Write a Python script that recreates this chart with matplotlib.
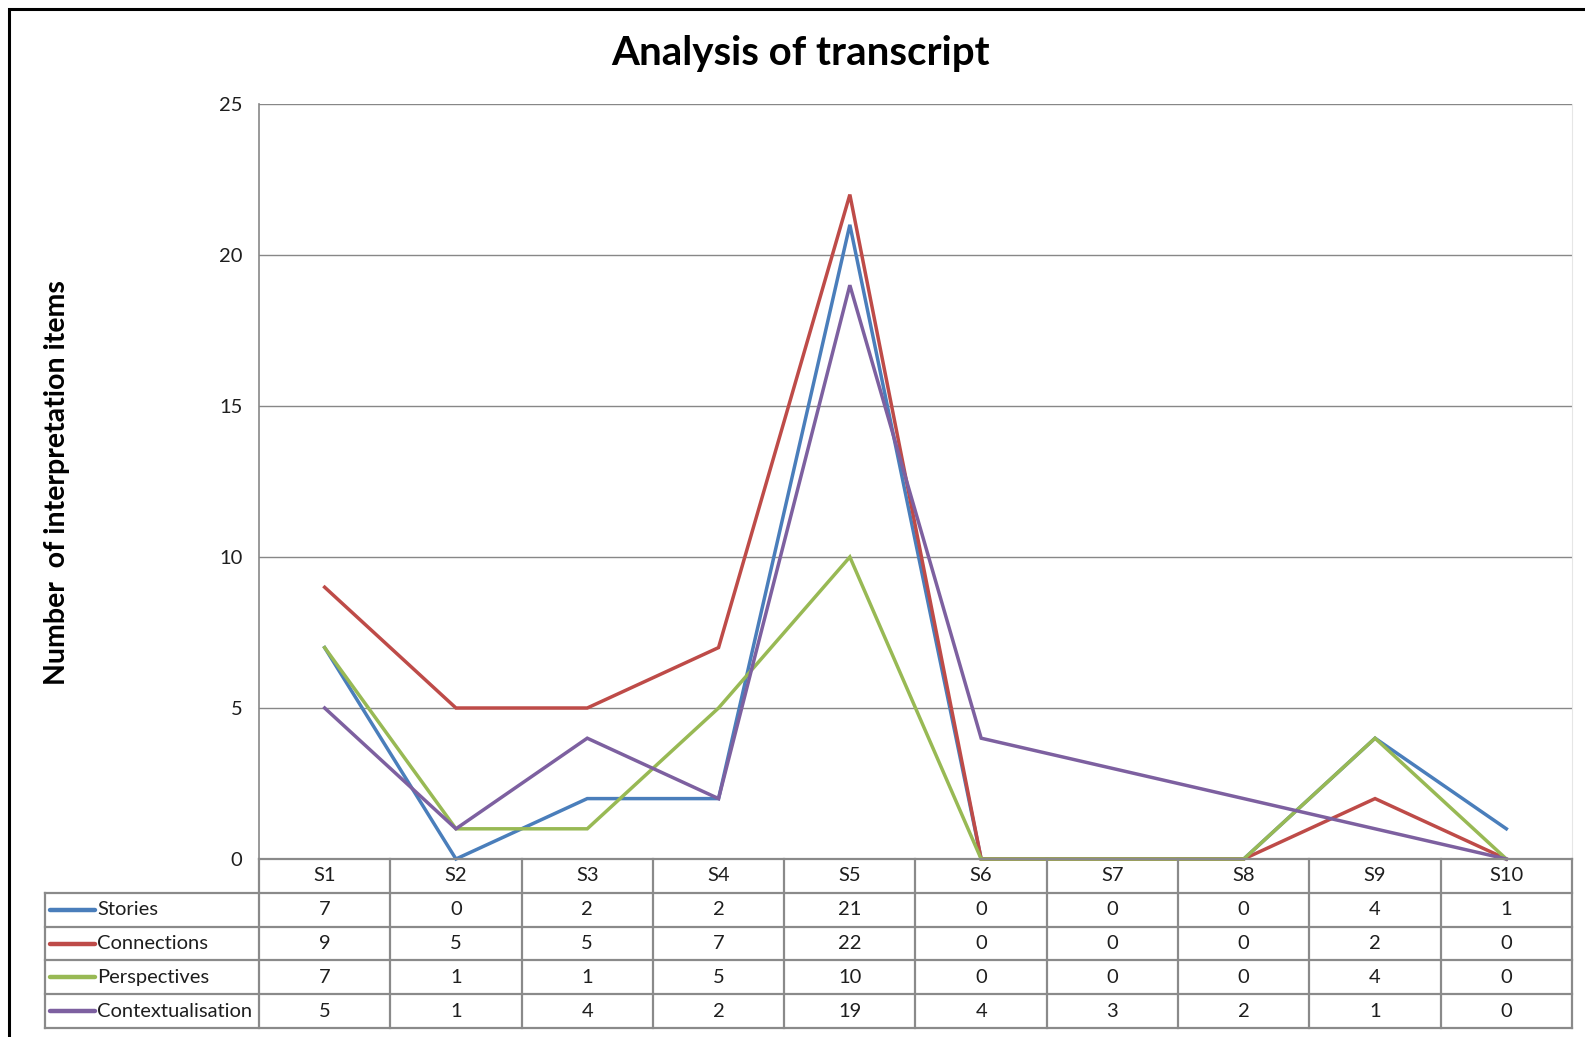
import matplotlib
matplotlib.use("Agg")
import matplotlib.pyplot as plt
from matplotlib.patches import Rectangle

plt.rcParams['font.family'] = ['Lato', 'DejaVu Sans']

categories = ["S1", "S2", "S3", "S4", "S5", "S6", "S7", "S8", "S9", "S10"]
series_names = ["Stories", "Connections", "Perspectives", "Contextualisation"]
stories = [7, 0, 2, 2, 21, 0, 0, 0, 4, 1]
connections = [9, 5, 5, 7, 22, 0, 0, 0, 2, 0]
perspectives = [7, 1, 1, 5, 10, 0, 0, 0, 4, 0]
contextualisation = [5, 1, 4, 2, 19, 4, 3, 2, 1, 0]
yticks = [0, 5, 10, 15, 20, 25]
colors = ["#4A7EBB", "#BE4B48", "#98B954", "#7D60A0"]
title = "Analysis of transcript"
ylabel = "Number  of interpretation items"

series = [stories, connections, perspectives, contextualisation]

W, H = 1585, 1037
fig = plt.figure(figsize=(W / 100, H / 100), dpi=100)
fig.patch.set_facecolor("white")

def px_rect(l, t, r, b):
    return [l / W, 1 - b / H, (r - l) / W, (b - t) / H]

# outer black border (cropped on right/bottom)
fig.patches.append(Rectangle((9 / W, -0.05), 1.1, 1.05 - 9 / H, transform=fig.transFigure,
                             fill=False, edgecolor="black", linewidth=2.2, zorder=0))

PL, PR, PT, PB = 259, 1572, 104, 859
grid_c = "#878787"
txt_c = "#1e1e1e"

ax = fig.add_axes(px_rect(PL, PT, PR, PB))
ax.set_xlim(0, len(categories))
ax.set_ylim(0, 25)
ax.set_yticks(yticks)
ax.set_yticklabels([str(v) for v in yticks], fontsize=14.5, color=txt_c)
ax.tick_params(axis="y", length=0, pad=12)
ax.set_xticks([])
ax.grid(axis="y", color=grid_c, linewidth=1.0)
ax.set_axisbelow(True)
for s in ["top", "bottom"]:
    ax.spines[s].set_visible(False)
ax.spines["right"].set_color("#e6e6e6")
ax.spines["left"].set_color(grid_c)
ax.spines["left"].set_linewidth(1.2)

xs = [i + 0.5 for i in range(len(categories))]
for vals, c, name in zip(series, colors, series_names):
    ax.plot(xs, vals, color=c, linewidth=2.5, clip_on=False, zorder=3,
            solid_joinstyle="miter", label=name)

fig.text(801 / W, 1 - 54 / H, title, ha="center", va="center",
         fontsize=29, fontweight="bold")
fig.text(57 / W, 1 - 483 / H, ylabel, ha="center", va="center",
         rotation=90, fontsize=20.5, fontweight="bold")

# data table
TL, TB = 45.5, 1028
tax = fig.add_axes(px_rect(TL, PB, PR, TB))
unit = (PR - PL) / len(categories)
x_left = -(PL - TL) / unit
tax.set_xlim(x_left, len(categories))
nrows = len(series) + 1
tax.set_ylim(nrows, 0)
tax.axis("off")
lc = "#8a8a8a"
lw = 1.6
n = len(categories)
tax.plot([0, n], [0, 0], color=lc, lw=lw, clip_on=False)
for r in range(1, nrows + 1):
    tax.plot([x_left, n], [r, r], color=lc, lw=lw, clip_on=False)
for k in range(n + 1):
    tax.plot([k, k], [0, nrows], color=lc, lw=lw, clip_on=False)
tax.plot([x_left, x_left], [1, nrows], color=lc, lw=lw, clip_on=False)

fs = 14.5
for k, cat in enumerate(categories):
    tax.text(k + 0.5, 0.5, cat, ha="center", va="center", fontsize=fs, color=txt_c)
for r, (vals, c, name) in enumerate(zip(series, colors, series_names), start=1):
    x0 = x_left + 5 / unit
    x1 = x_left + 50 / unit
    tax.plot([x0, x1], [r + 0.5, r + 0.5], color=c, lw=3.2, solid_capstyle="round")
    tax.text(x1 + 2 / unit, r + 0.5, name, ha="left", va="center", fontsize=fs, color=txt_c)
    for k, v in enumerate(vals):
        tax.text(k + 0.5, r + 0.5, str(v), ha="center", va="center", fontsize=fs, color=txt_c)

fig.savefig("out.png", dpi=100, facecolor="white")
